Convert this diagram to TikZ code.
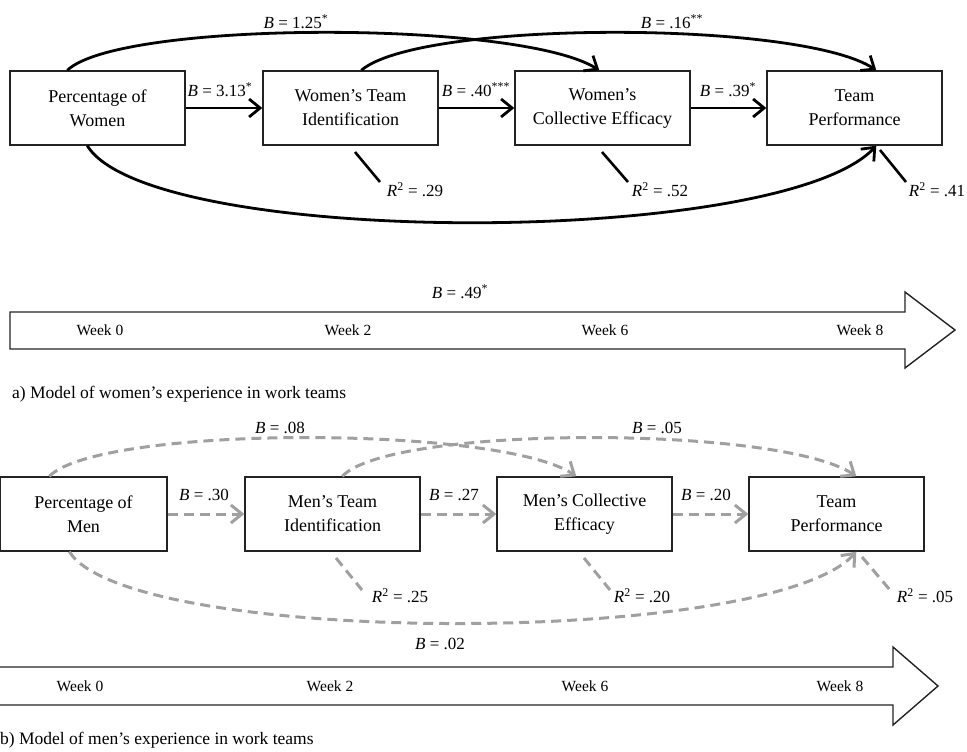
\documentclass[tikz,border=0pt]{standalone}
\usepackage{fontspec}
\setmainfont{Liberation Serif}
\usetikzlibrary{arrows.meta}
\definecolor{dgray}{RGB}{160,160,160}
\definecolor{boxline}{RGB}{35,35,35}
\begin{document}
\begin{tikzpicture}[x=1pt,y=-1pt,
  box/.style={draw=boxline,line width=1.4pt,minimum width=175pt,minimum height=74pt,align=center,font=\fontsize{18}{24}\selectfont,inner sep=0pt},
  lab/.style={font=\fontsize{17}{19}\selectfont,inner sep=0pt},
  wk/.style={font=\fontsize{15.5}{18}\selectfont,inner sep=0pt},
  captext/.style={font=\fontsize{17.5}{20}\selectfont,anchor=west,inner sep=0pt},
  solidarrow/.style={line width=2.8pt,-{Straight Barb[length=11pt,width=18pt]}},
  dasharrow/.style={line width=3pt,draw=dgray,dash pattern=on 10pt off 6pt,-{Straight Barb[length=11pt,width=18pt]}},
  rline/.style={line width=2.6pt},
  rdline/.style={line width=3pt,draw=dgray,dash pattern=on 10pt off 6pt},
  timeline/.style={draw=boxline,line width=1.4pt}]
\useasboundingbox (0,0) rectangle (967,752);

% ---------- panel a ----------
\node[box] (A) at (97.5,108) {Percentage of\\Women};
\node[box] (B) at (350.5,108) {Women’s Team\\Identification};
\node[box] (C) at (602.5,108) {Women’s\\Collective Efficacy};
\node[box] (D) at (854.5,108) {Team\\Performance};

\draw[solidarrow] (A.east) -- (B.west);
\draw[solidarrow] (B.east) -- (C.west);
\draw[solidarrow] (C.east) -- (D.west);

\draw[solidarrow] ([xshift=58pt]A.north west) .. controls (120,20) and (520,20) .. ([xshift=85pt]C.north west);
\draw[solidarrow] ([xshift=99pt]B.north west) .. controls (420,20) and (800,20) .. ([xshift=110pt]D.north west);
\draw[solidarrow] ([xshift=78pt]A.south west) .. controls (150,248) and (780,248) .. ([xshift=110pt]D.south west);

\node[lab] (l1) at (296,22) {\textit{B} = 1.25\textsuperscript{*}};
\node[lab] (l2) at (672,22) {\textit{B} = .16\textsuperscript{**}};
\node[lab] (l3) at (220,90) {\textit{B} = 3.13\textsuperscript{*}};
\node[lab] (l4) at (476,90) {\textit{B} = .40\textsuperscript{***}};
\node[lab] (l5) at (728,90) {\textit{B} = .39\textsuperscript{*}};
\node[lab] (l6) at (460,292) {\textit{B} = .49\textsuperscript{*}};

\coordinate (r1a) at (355,152); \coordinate (r1b) at (380,182);
\coordinate (r2a) at (602,152); \coordinate (r2b) at (628,182);
\coordinate (r3a) at (880,150); \coordinate (r3b) at (906,182);
\draw[rline] (r1a) -- (r1b);
\draw[rline] (r2a) -- (r2b);
\draw[rline] (r3a) -- (r3b);
\node[lab] (q1) at (415,190) {\textit{R}\textsuperscript{2} = .29};
\node[lab] (q2) at (660,190) {\textit{R}\textsuperscript{2} = .52};
\node[lab] (q3) at (937,190) {\textit{R}\textsuperscript{2} = .41};

\draw[timeline] (10,312) -- (905,312) -- (905,292) -- (955,330) -- (905,368) -- (905,349) -- (10,349) -- cycle;
\node[wk] (w0) at (100,330) {Week 0};
\node[wk] (w2) at (348,330) {Week 2};
\node[wk] (w6) at (605,330) {Week 6};
\node[wk] (w8) at (860,330) {Week 8};

\node[captext] (capa) at (12,394) {a) Model of women’s experience in work teams};

% ---------- panel b ----------
\node[box,minimum width=167pt] (E) at (83.5,514) {Percentage of\\Men};
\node[box] (F) at (332.5,514) {Men’s Team\\Identification};
\node[box] (G) at (584.5,514) {Men’s Collective\\Efficacy};
\node[box] (H) at (836.5,514) {Team\\Performance};

\draw[dasharrow] (E.east) -- (F.west);
\draw[dasharrow] (F.east) -- (G.west);
\draw[dasharrow] (G.east) -- (H.west);

\draw[dasharrow] ([xshift=50pt]E.north west) .. controls (100,425) and (500,425) .. ([xshift=80pt]G.north west);
\draw[dasharrow] ([xshift=98pt]F.north west) .. controls (390,425) and (780,425) .. ([xshift=108pt]H.north west);
\draw[dasharrow] ([xshift=70pt]E.south west) .. controls (130,647) and (770,647) .. ([xshift=108pt]H.south west);

\node[lab] (m1) at (280,428) {\textit{B} = .08};
\node[lab] (m2) at (657,428) {\textit{B} = .05};
\node[lab] (m3) at (204,495) {\textit{B} = .30};
\node[lab] (m4) at (454,495) {\textit{B} = .27};
\node[lab] (m5) at (706,495) {\textit{B} = .20};
\node[lab] (m6) at (440,644) {\textit{B} = .02};

\coordinate (s1a) at (336,558); \coordinate (s1b) at (362,590);
\coordinate (s2a) at (584,558); \coordinate (s2b) at (610,590);
\coordinate (s3a) at (862,557); \coordinate (s3b) at (890,590);
\draw[rdline] (s1a) -- (s1b);
\draw[rdline] (s2a) -- (s2b);
\draw[rdline] (s3a) -- (s3b);
\node[lab] (p1) at (400,596) {\textit{R}\textsuperscript{2} = .25};
\node[lab] (p2) at (642,596) {\textit{R}\textsuperscript{2} = .20};
\node[lab] (p3) at (925,596) {\textit{R}\textsuperscript{2} = .05};

\draw[timeline] (-3,667) -- (893,667) -- (893,647) -- (938,686) -- (893,725) -- (893,705) -- (-3,705) -- cycle;
\node[wk] (v0) at (80,686) {Week 0};
\node[wk] (v2) at (330,686) {Week 2};
\node[wk] (v6) at (585,686) {Week 6};
\node[wk] (v8) at (840,686) {Week 8};

\node[captext] (capb) at (0,740) {b) Model of men’s experience in work teams};
\end{tikzpicture}
\end{document}
